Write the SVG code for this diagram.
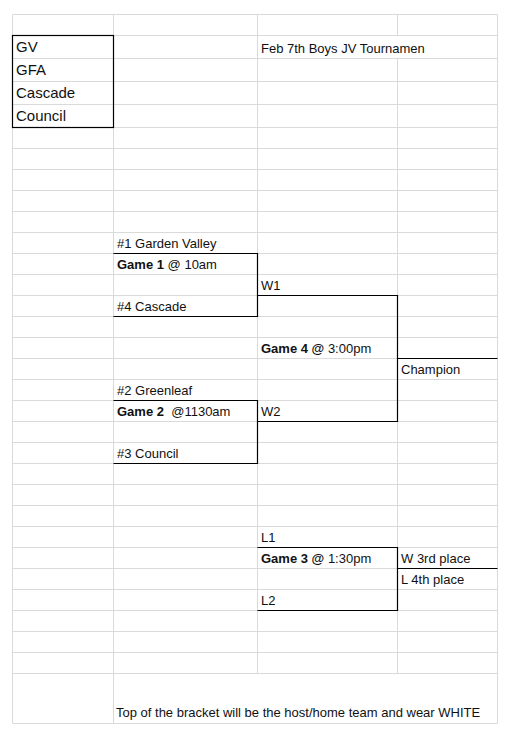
<svg xmlns="http://www.w3.org/2000/svg" width="525" height="745" viewBox="0 0 525 745">
<style>
.grid{fill:none;stroke:#dadada;stroke-width:1}
.bd{fill:none;stroke:#000;stroke-width:1.2}
text{font-family:"Liberation Sans",Arial,sans-serif;font-size:13px;fill:#111}
.big{font-size:15px}
.b{font-weight:bold}
</style>
<rect x="0" y="0" width="525" height="745" fill="#fff"/>
<g id="grid" class="grid" transform="translate(0.5,0.5)">
<path d="M12 14H497M12 35H497M12 58H497M12 81H497M12 104H497M12 127H497M12 148H497M12 169H497M12 190H497M12 211H497M12 232H497M12 253H497M12 274H497M12 295H497M12 316H497M12 337H497M12 358H497M12 379H497M12 400H497M12 421H497M12 442H497M12 463H497M12 484H497M12 505H497M12 526H497M12 547H497M12 568H497M12 589H497M12 610H497M12 631H497M12 652H497M12 673H497M12 723H497"/>
<path d="M12 14V723M113 14V723M257 14V673M397 14V35M397 58V673M497 14V723"/>
</g>
<g id="connectors" class="bd" transform="translate(0.5,0.5)">
<rect x="12" y="35" width="101" height="92"/>
<path d="M113 253H257V316H113"/>
<path d="M257 295H397V421H257"/>
<path d="M397 358H497"/>
<path d="M113 400H257V463H113"/>
<path d="M257 547H397V610H257"/>
<path d="M397 568H497"/>
</g>
<g id="teams-list">
<text class="big" x="16" y="52">GV</text>
<text class="big" x="16" y="75">GFA</text>
<text class="big" x="16" y="98">Cascade</text>
<text class="big" x="16" y="121">Council</text>
</g>
<g id="title"><text x="261" y="53">Feb 7th Boys JV Tournamen</text></g>
<g id="game1">
<text x="117" y="248">#1 Garden Valley</text>
<text x="117" y="269"><tspan class="b">Game 1</tspan> @ 10am</text>
<text x="117" y="311">#4 Cascade</text>
</g>
<g id="game4">
<text x="261" y="290">W1</text>
<text x="261" y="353"><tspan class="b">Game 4 @</tspan> 3:00pm</text>
<text x="261" y="416">W2</text>
</g>
<g id="champion"><text x="401" y="374">Champion</text></g>
<g id="game2">
<text x="117" y="395">#2 Greenleaf</text>
<text x="117" y="416" xml:space="preserve"><tspan class="b">Game 2</tspan>  @1130am</text>
<text x="117" y="458">#3 Council</text>
</g>
<g id="game3">
<text x="261" y="542">L1</text>
<text x="261" y="563"><tspan class="b">Game 3 @</tspan> 1:30pm</text>
<text x="261" y="605">L2</text>
</g>
<g id="places">
<text x="401" y="563">W 3rd place</text>
<text x="401" y="584">L 4th place</text>
</g>
<g id="note"><text x="116" y="717">Top of the bracket will be the host/home team and wear WHITE</text></g>
</svg>
